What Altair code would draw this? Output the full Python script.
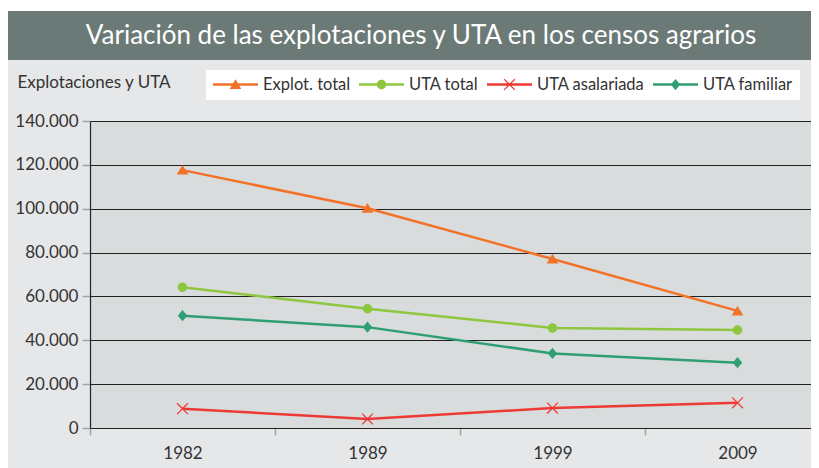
import math
import altair as alt
import pandas as pd

# ---------------- data ----------------
years = ["1982", "1989", "1999", "2009"]
series = ["Explot. total", "UTA total", "UTA asalariada", "UTA familiar"]
explot_total = [117600, 100200, 77100, 53400]
uta_total = [64200, 54400, 45600, 44700]
uta_asalariada = [8800, 4100, 9100, 11500]
uta_familiar = [51200, 46000, 34000, 29800]
y_ticks = [0, 20000, 40000, 60000, 80000, 100000, 120000, 140000]
title_text = "Variación de las explotaciones y UTA en los censos agrarios"
y_title = "Explotaciones y UTA"

colors = ["#f37229", "#8dc63f", "#ee3a35", "#2f9e72"]

values_by_series = [explot_total, uta_total, uta_asalariada, uta_familiar]
rows = []
for s, vals in zip(series, values_by_series):
    for yr, v in zip(years, vals):
        rows.append({"year": yr, "serie": s, "valor": v})
df = pd.DataFrame(rows)

# ---------------- marker shapes (unit box, clockwise polygons) ----------------
tri = "M0,-0.23L0.26,0.2L-0.26,0.2Z"
circ = "M0.21,0A0.21,0.21 0 1,1 -0.21,0A0.21,0.21 0 1,1 0.21,0Z"
dia = "M0,-0.25L0.21,0L0,0.25L-0.21,0Z"


def xshape(a=0.34, t=0.028):
    pts = [(t, t), (a, t), (a, -t), (t, -t), (t, -a), (-t, -a), (-t, -t),
           (-a, -t), (-a, t), (-t, t), (-t, a), (t, a)]
    pts = pts[::-1]  # clockwise on screen
    r = 1 / math.sqrt(2)
    rp = [((x - y) * r, (x + y) * r) for x, y in pts]
    return "M" + "L".join(f"{x:.4f},{y:.4f}" for x, y in rp) + "Z"


markers = [tri, circ, xshape(), dia]
bar = "M-1,-0.056L1,-0.056L1,0.056L-1,0.056Z"  # legend line (2.5px at size 2025)
legend_shapes = [bar + m for m in markers]

SYM = 2025  # 45px legend symbol
FONT = "Lato"
TXT = "#333333"

x_enc = alt.X(
    "year:O",
    sort=years,
    scale=alt.Scale(type="band", paddingInner=0, paddingOuter=0),
    axis=alt.Axis(
        title=None, labelAngle=0, labelFont=FONT, labelFontSize=17, labelColor=TXT,
        tickBand="extent", tickColor="#9aa5a5", tickSize=7, tickWidth=1.5,
        domainColor="#222222", domainWidth=1.2, labelPadding=10, grid=False,
    ),
)
y_enc = alt.Y(
    "valor:Q",
    scale=alt.Scale(domain=[0, 140000], nice=False),
    axis=alt.Axis(
        values=y_ticks,
        labelExpr="replace(format(datum.value, ','), ',', '.')",
        labelFont=FONT, labelFontSize=17, labelColor=TXT, labelPadding=4,
        tickColor="#9aa5a5", tickSize=8, tickWidth=1.5,
        domainColor="#222222", domainWidth=1.2,
        grid=True, gridColor="#222222", gridWidth=1,
        title=y_title, titleAngle=0, titleAlign="left", titleBaseline="middle",
        titleX=-73, titleY=-39, titleFont=FONT, titleFontSize=17,
        titleFontWeight="normal", titleColor=TXT,
    ),
)

lines = alt.Chart(df).mark_line(strokeWidth=2.5).encode(
    x=x_enc,
    y=y_enc,
    color=alt.Color("serie:N", scale=alt.Scale(domain=series, range=colors), legend=None),
)

points = alt.Chart(df).mark_point(filled=True, size=SYM, opacity=1, strokeWidth=0).encode(
    x=x_enc,
    y=y_enc,
    fill=alt.Fill("serie:N", scale=alt.Scale(domain=series, range=colors), legend=None),
    shape=alt.Shape("serie:N", scale=alt.Scale(domain=series, range=markers), legend=None),
)

leg = alt.Legend(
    title=None, orient="none", legendX=116, legendY=-51, direction="horizontal",
    labelFont=FONT, labelFontSize=16.5, labelColor=TXT, labelOffset=5,
    columnPadding=8, padding=7, symbolSize=SYM, clipHeight=15, labelLimit=300,
    fillColor="white", symbolStrokeWidth=0,
)
# legend-only layer: its marks are placed off the page, only its legend shows
legend_layer = alt.Chart(df).mark_point(filled=True, size=SYM, opacity=1, strokeWidth=0).encode(
    x=alt.value(-3000),
    y=alt.value(-3000),
    fill=alt.Fill("serie:N", scale=alt.Scale(domain=series, range=colors), legend=leg),
    shape=alt.Shape("serie:N", scale=alt.Scale(domain=series, range=legend_shapes), legend=leg),
)

deco = pd.DataFrame({"t": [title_text]})
white_strip = alt.Chart(deco).mark_rect(color="white").encode(
    x=alt.value(-82), x2=alt.value(740), y=alt.value(-113), y2=alt.value(-110)
)
title_bar = alt.Chart(deco).mark_rect(color="#6b7a77").encode(
    x=alt.value(-82), x2=alt.value(740), y=alt.value(-110), y2=alt.value(-61)
)
title_txt = alt.Chart(deco).mark_text(
    font=FONT, fontSize=26, color="white", align="center", baseline="middle"
).encode(text="t:N", x=alt.value(331), y=alt.value(-85))

chart = (
    alt.layer(white_strip, title_bar, lines, points, legend_layer, title_txt)
    .resolve_scale(fill="independent", shape="independent")
    .properties(
        width=740, height=307,
        autosize=alt.AutoSizeParams(type="none"),
        padding={"left": 82, "top": 113, "right": -19, "bottom": 40},
        background="#e6e7e8",
    )
    .configure_view(fill="#d9dcdd", strokeOpacity=0)
)

chart.save("out.html", embed_options={"renderer": "svg", "actions": False})
